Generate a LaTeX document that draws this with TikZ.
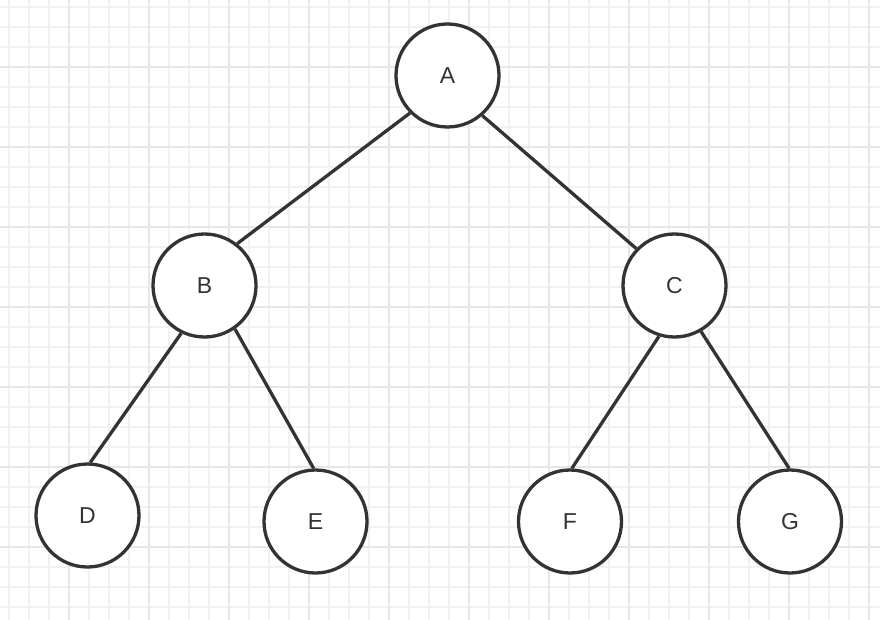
\documentclass[tikz,border=0pt]{standalone}
\usepackage{fontspec}
\setmainfont{Liberation Sans}
\definecolor{inkgray}{HTML}{333333}
\definecolor{minorgray}{HTML}{F1F1F1}
\definecolor{majorgray}{HTML}{E6E6E6}
\begin{document}
\begin{tikzpicture}[x=1pt, y=-1pt,
    treenode/.style={circle, draw=inkgray, line width=3.3pt, fill=white, minimum size=103pt, inner sep=0pt, text=inkgray, font=\fontsize{23}{23}\selectfont},
    treeedge/.style={draw=inkgray, line width=3.3pt},
    minorline/.style={draw=minorgray, line width=1.5pt},
    majorline/.style={draw=majorgray, line width=1.5pt}]
                \fill[white] (0,0) rectangle (880,620);
                \useasboundingbox (0,0) rectangle (880,620);
                
                \foreach \x in {9,29,...,869} \draw[minorline] (\x,0) -- (\x,620);
                \foreach \y in {7,27,...,607} \draw[minorline] (0,\y) -- (880,\y);
                \foreach \x in {69,149,...,869} \draw[majorline] (\x,0) -- (\x,620);
                \foreach \y in {67,147,...,547} \draw[majorline] (0,\y) -- (880,\y);
                
                \node [treenode] (NA) at (447.5,75.5) {A};
                \node [treenode] (NB) at (204.5,285.5) {B};
                \node [treenode] (NC) at (674.5,285.5) {C};
                \node [treenode] (ND) at (87.5,515.5) {D};
                \node [treenode] (NE) at (315.5,521.5) {E};
                \node [treenode] (NF) at (570,521.5) {F};
                \node [treenode] (NG) at (790,521.5) {G};
                
                \draw[treeedge] (NA.225) -- (NB.52);
                \draw[treeedge] (NA.311) -- (NC.136);
                \draw[treeedge] (NB.244) -- (ND.87);
                \draw[treeedge] (NB.305) -- (NE.92);
                \draw[treeedge] (NC.253) -- (NF.88);
                \draw[treeedge] (NC.300) -- (NG.91);
            \end{tikzpicture}
\end{document}
